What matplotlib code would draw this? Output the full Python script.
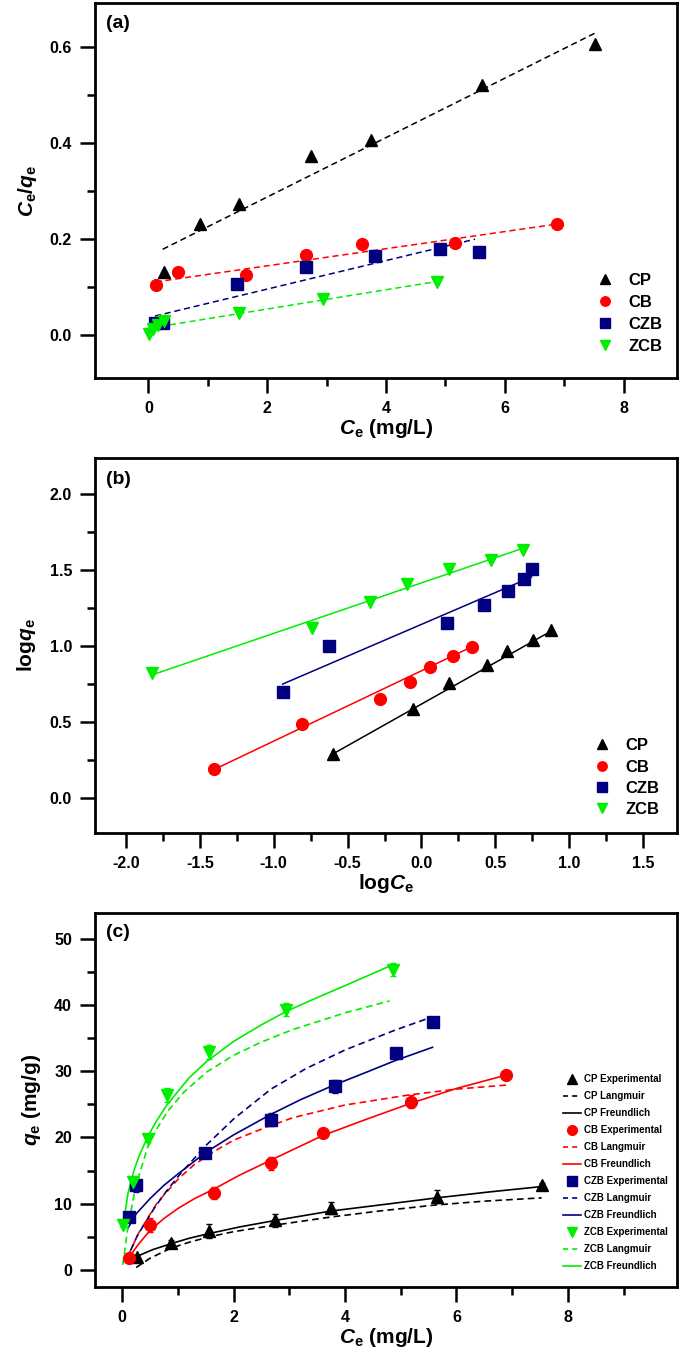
import matplotlib
matplotlib.use('Agg')
import matplotlib.pyplot as plt
from matplotlib.lines import Line2D
from matplotlib.ticker import MultipleLocator, FormatStrFormatter

plt.rcParams['font.family'] = ['Liberation Sans', 'DejaVu Sans']
plt.rcParams['font.weight'] = 'bold'
plt.rcParams['mathtext.fontset'] = 'custom'
plt.rcParams['mathtext.rm'] = 'Liberation Sans:bold'
plt.rcParams['mathtext.it'] = 'Liberation Sans:bold:italic'
plt.rcParams['mathtext.bf'] = 'Liberation Sans:bold'

names = ['CP', 'CB', 'CZB', 'ZCB']
colors = {'CP': '#000000', 'CB': '#ff0000', 'CZB': '#000080', 'ZCB': '#00ee00'}
markers = {'CP': '^', 'CB': 'o', 'CZB': 's', 'ZCB': 'v'}

# ---- (a) Langmuir linear plot: Ce/qe vs Ce
a_x = {
    'CP': [0.26, 0.87, 1.53, 2.74, 3.74, 5.61, 7.52],
    'CB': [0.13, 0.49, 1.65, 2.66, 3.59, 5.17, 6.88],
    'CZB': [0.11, 0.24, 1.49, 2.66, 3.81, 4.91, 5.57],
    'ZCB': [0.01, 0.07, 0.16, 0.27, 1.53, 2.94, 4.86],
}
a_y = {
    'CP': [0.130, 0.230, 0.272, 0.372, 0.406, 0.520, 0.605],
    'CB': [0.104, 0.130, 0.125, 0.167, 0.189, 0.191, 0.230],
    'CZB': [0.024, 0.025, 0.105, 0.142, 0.164, 0.178, 0.172],
    'ZCB': [0.001, 0.011, 0.021, 0.028, 0.046, 0.074, 0.110],
}
a_fit_x = {'CP': [0.24, 7.52], 'CB': [0.12, 6.91], 'CZB': [0.11, 5.50], 'ZCB': [0.03, 4.86]}
a_fit_y = {'CP': [0.178, 0.628], 'CB': [0.110, 0.231], 'CZB': [0.039, 0.199], 'ZCB': [0.014, 0.111]}

# ---- (b) Freundlich linear plot: log qe vs log Ce
b_x = {
    'CP': [-0.599, -0.060, 0.186, 0.441, 0.577, 0.755, 0.879],
    'CB': [-1.407, -0.812, -0.279, -0.078, 0.056, 0.216, 0.340],
    'CZB': [-0.940, -0.628, 0.171, 0.423, 0.583, 0.692, 0.746],
    'ZCB': [-1.825, -0.741, -0.350, -0.098, 0.189, 0.470, 0.689],
}
b_y = {
    'CP': [0.293, 0.587, 0.756, 0.876, 0.968, 1.040, 1.106],
    'CB': [0.193, 0.490, 0.650, 0.767, 0.865, 0.938, 0.997],
    'CZB': [0.695, 1.000, 1.155, 1.270, 1.365, 1.440, 1.510],
    'ZCB': [0.820, 1.120, 1.290, 1.410, 1.505, 1.570, 1.630],
}
b_fit_x = {'CP': [-0.60, 0.88], 'CB': [-1.41, 0.34], 'CZB': [-0.94, 0.746], 'ZCB': [-1.825, 0.69]}
b_fit_y = {'CP': [0.290, 1.100], 'CB': [0.185, 0.995], 'CZB': [0.750, 1.455], 'ZCB': [0.810, 1.645]}

# ---- (c) isotherms: qe vs Ce
c_x = {
    'CP': [0.27, 0.88, 1.55, 2.75, 3.74, 5.65, 7.53],
    'CB': [0.125, 0.49, 1.65, 2.67, 3.60, 5.18, 6.89],
    'CZB': [0.125, 0.25, 1.49, 2.67, 3.82, 4.92, 5.57],
    'ZCB': [0.016, 0.20, 0.455, 0.80, 1.55, 2.94, 4.86],
}
c_y = {
    'CP': [2.0, 4.1, 5.9, 7.5, 9.35, 11.05, 12.8],
    'CB': [1.9, 6.8, 11.7, 16.1, 20.7, 25.4, 29.5],
    'CZB': [7.95, 12.8, 17.7, 22.7, 27.7, 32.7, 37.4],
    'ZCB': [6.8, 13.3, 19.8, 26.4, 32.9, 39.3, 45.3],
}
c_err = {
    'CP': [0.3, 0.4, 1.0, 1.0, 0.9, 1.0, 0.3],
    'CB': [0.3, 1.0, 0.9, 1.0, 0.5, 1.0, 0.5],
    'CZB': [0.3, 1.0, 0.5, 1.0, 1.0, 0.5, 0.3],
    'ZCB': [0.3, 0.6, 0.5, 1.0, 1.0, 1.0, 1.0],
}
# Langmuir model curves (dashed)
lang_x = {
    'CP': [0.25, 0.5, 0.87, 1.2, 1.55, 2.0, 2.75, 3.74, 4.6, 5.6, 6.5, 7.53],
    'CB': [0.1, 0.3, 0.63, 1.0, 1.29, 1.65, 2.0, 2.6, 3.07, 4.0, 5.13, 6.0, 6.89],
    'CZB': [0.07, 0.27, 0.57, 0.8, 1.05, 1.49, 2.0, 2.67, 3.3, 4.0, 4.9, 5.57],
    'ZCB': [0.01, 0.1, 0.24, 0.45, 0.62, 0.81, 1.1, 1.52, 2.0, 2.5, 3.07, 4.0, 4.8],
}
lang_y = {
    'CP': [0.4, 1.8, 3.3, 4.2, 5.0, 5.8, 6.8, 8.0, 8.9, 9.8, 10.4, 10.9],
    'CB': [2.1, 5.7, 10.2, 13.7, 15.9, 17.9, 19.6, 21.6, 23.0, 24.9, 26.4, 27.3, 27.9],
    'CZB': [1.5, 5.2, 9.3, 12.0, 14.6, 18.7, 22.8, 27.3, 30.4, 33.2, 36.2, 38.2],
    'ZCB': [0.8, 6.5, 12.6, 18.4, 21.3, 23.9, 26.8, 29.9, 32.4, 34.4, 36.3, 38.8, 40.6],
}
# Freundlich model curves (solid)
freu_x = {
    'CP': [0.27, 0.55, 0.88, 1.2, 1.55, 2.1, 2.75, 3.74, 4.7, 5.65, 6.6, 7.53],
    'CB': [0.125, 0.3, 0.5, 0.75, 1.0, 1.3, 1.64, 2.1, 2.67, 3.6, 4.4, 5.16, 6.0, 6.89],
    'CZB': [0.1, 0.25, 0.5, 0.75, 1.0, 1.49, 2.0, 2.67, 3.2, 3.8, 4.4, 4.9, 5.57],
    'ZCB': [0.02, 0.06, 0.1, 0.2, 0.3, 0.45, 0.6, 0.8, 1.2, 1.52, 2.0, 2.5, 2.94, 3.5, 4.0, 4.87],
}
freu_y = {
    'CP': [2.1, 3.1, 4.0, 4.8, 5.5, 6.5, 7.5, 8.9, 9.9, 10.9, 11.8, 12.6],
    'CB': [2.0, 4.0, 6.0, 7.8, 9.3, 10.8, 12.2, 14.3, 16.6, 20.3, 22.8, 25.1, 27.4, 29.4],
    'CZB': [6.3, 8.5, 10.8, 12.8, 14.5, 17.7, 20.4, 23.5, 25.7, 27.9, 29.9, 31.6, 33.6],
    'ZCB': [6.0, 9.2, 11.5, 14.8, 17.2, 20.0, 22.3, 24.9, 29.0, 31.5, 34.5, 37.0, 39.0, 41.1, 42.9, 46.1],
}

fig = plt.figure(figsize=(6.85, 13.62), dpi=100)
W, H = 685.0, 1362.0


def make_axes(left, right, top, bottom):
    ax = fig.add_axes([left / W, 1 - bottom / H, (right - left) / W, (bottom - top) / H])
    for sp in ax.spines.values():
        sp.set_linewidth(2.0)
    ax.tick_params(which='major', direction='out', length=10.5, width=1.8, labelsize=11.5, pad=6)
    ax.tick_params(which='minor', direction='out', length=5.5, width=1.8)
    ax.tick_params(top=False, right=False)
    return ax


def bold_ticks(ax):
    for lab in ax.get_xticklabels() + ax.get_yticklabels():
        lab.set_fontweight('bold')


# ---------------- (a)
ax1 = make_axes(95, 677, 3.3, 378)
for n in names:
    ax1.plot(a_fit_x[n], a_fit_y[n], ls=(0, (4, 2.5)), lw=1.1, color=colors[n])
for n in names:
    ax1.plot(a_x[n], a_y[n], ls='none', marker=markers[n], ms=8.5, color=colors[n],
             mec=colors[n], label=n)
ax1.set_xlim(-0.9, 8.9)
ax1.set_ylim(-0.09, 0.69)
ax1.xaxis.set_major_locator(MultipleLocator(2))
ax1.xaxis.set_minor_locator(MultipleLocator(1))
ax1.yaxis.set_major_locator(MultipleLocator(0.2))
ax1.yaxis.set_minor_locator(MultipleLocator(0.1))
ax1.set_xlabel(r'$C_\mathrm{e}$ (mg/L)', fontsize=15, fontweight='bold', labelpad=1)
ax1.set_ylabel(r'$C_\mathrm{e}/q_\mathrm{e}$', fontsize=15, fontweight='bold', labelpad=8)
ax1.text(0.019, 0.945, '(a)', transform=ax1.transAxes, fontsize=14, fontweight='bold', va='center')
ax1.legend(loc='center left', bbox_to_anchor=(0.862, 0.172), frameon=False,
           handlelength=1.0, handletextpad=0.9, labelspacing=0.42, borderpad=0,
           borderaxespad=0, markerscale=0.8, prop={'weight': 'bold', 'size': 12})
bold_ticks(ax1)

# ---------------- (b)
ax2 = make_axes(95, 677, 457.7, 833)
for n in names:
    ax2.plot(b_fit_x[n], b_fit_y[n], ls='-', lw=1.1, color=colors[n])
for n in names:
    ax2.plot(b_x[n], b_y[n], ls='none', marker=markers[n], ms=8.5, color=colors[n],
             mec=colors[n], label=n)
ax2.set_xlim(-2.21, 1.73)
ax2.set_ylim(-0.23, 2.24)
ax2.xaxis.set_major_locator(MultipleLocator(0.5))
ax2.xaxis.set_minor_locator(MultipleLocator(0.25))
ax2.yaxis.set_major_locator(MultipleLocator(0.5))
ax2.yaxis.set_minor_locator(MultipleLocator(0.25))
ax2.xaxis.set_major_formatter(FormatStrFormatter('%.1f'))
ax2.yaxis.set_major_formatter(FormatStrFormatter('%.1f'))
ax2.set_xlabel(r'log$C_\mathrm{e}$', fontsize=15, fontweight='bold', labelpad=1)
ax2.set_ylabel(r'log$q_\mathrm{e}$', fontsize=15, fontweight='bold', labelpad=8)
ax2.text(0.019, 0.941, '(b)', transform=ax2.transAxes, fontsize=14, fontweight='bold', va='center')
ax2.legend(loc='center left', bbox_to_anchor=(0.857, 0.147), frameon=False,
           handlelength=1.0, handletextpad=0.9, labelspacing=0.38, borderpad=0,
           borderaxespad=0, markerscale=0.8, prop={'weight': 'bold', 'size': 12})
bold_ticks(ax2)

# ---------------- (c)
ax3 = make_axes(95, 677, 912.7, 1286.7)
handles = []
for n in names:
    ax3.plot(lang_x[n], lang_y[n], ls=(0, (4, 2.5)), lw=1.2, color=colors[n])
    ax3.plot(freu_x[n], freu_y[n], ls='-', lw=1.2, color=colors[n])
    ax3.errorbar(c_x[n], c_y[n], yerr=c_err[n], fmt=markers[n], ms=8.5, color=colors[n],
                 mec=colors[n], ecolor=colors[n], elinewidth=1.0, capsize=2.5, capthick=1.0)
    handles.append(Line2D([], [], ls='none', marker=markers[n], ms=7, color=colors[n],
                          label=n + ' Experimental'))
    handles.append(Line2D([], [], ls=(0, (3, 2.5)), lw=1.2, color=colors[n], label=n + ' Langmuir'))
    handles.append(Line2D([], [], ls='-', lw=1.2, color=colors[n], label=n + ' Freundlich'))
ax3.set_xlim(-0.49, 9.96)
ax3.set_ylim(-2.5, 53.9)
ax3.xaxis.set_major_locator(MultipleLocator(2))
ax3.xaxis.set_minor_locator(MultipleLocator(1))
ax3.yaxis.set_major_locator(MultipleLocator(10))
ax3.yaxis.set_minor_locator(MultipleLocator(5))
ax3.set_xlabel(r'$C_\mathrm{e}$ (mg/L)', fontsize=15, fontweight='bold', labelpad=1)
ax3.set_ylabel(r'$q_\mathrm{e}$ (mg/g)', fontsize=15, fontweight='bold', labelpad=8)
ax3.text(0.019, 0.946, '(c)', transform=ax3.transAxes, fontsize=14, fontweight='bold', va='center')
ax3.legend(handles=handles, loc='center left', bbox_to_anchor=(0.804, 0.305), frameon=False,
           handlelength=1.9, handletextpad=0.3, labelspacing=0.72, borderpad=0,
           borderaxespad=0, prop={'weight': 'bold', 'size': 7})
bold_ticks(ax3)

fig.savefig('out.png', dpi=100)
